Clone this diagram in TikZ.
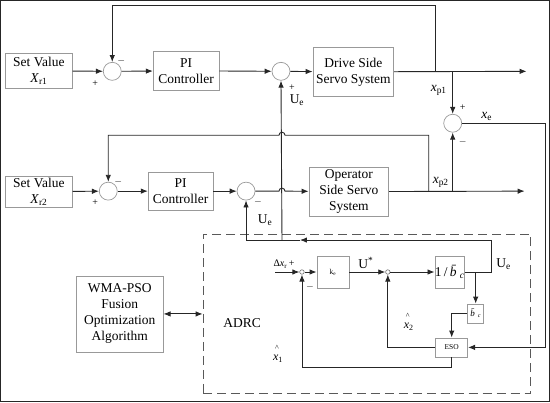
\documentclass[tikz,border=0pt]{standalone}
\usepackage{fontspec}
\setmainfont{Liberation Serif}
\usetikzlibrary{arrows.meta,positioning,calc}

\newcommand{\hatx}[1]{\rlap{\hspace{2pt}\raisebox{10pt}{\fontsize{8}{8}\selectfont\^{}}}\textit{x}\textsubscript{#1}}

\begin{document}
\begin{tikzpicture}[
  x=1pt, y=-1pt,
  >={Latex[length=7pt,width=5.5pt]},
  every node/.style={font=\fontsize{13.5}{16}\selectfont},
  every path/.style={line width=.9pt, draw=black!85},
  block/.style={draw=black!40, line width=.7pt, fill=white, align=center, inner sep=1pt},
  sum/.style={draw=black!40, line width=.7pt, circle, minimum size=18pt, inner sep=0pt},
  dot/.style={draw=black!55, line width=.6pt, circle, minimum size=4.5pt, inner sep=0pt},
  tiny/.style={font=\fontsize{7.5}{9}\selectfont},
  sign/.style={font=\fontsize{10}{12}\selectfont},
  frame/.style={draw=black!65, line width=1pt, dash pattern=on 9pt off 5pt}
]
\useasboundingbox (0,0) rectangle (550,402);

% ADRC frame and optimiser
\node[frame, minimum width=328pt, minimum height=160pt] (adrc) at (367,314) {};
\node[block, minimum width=87pt, minimum height=76pt] (wma) at (119.5,314) {WMA-PSO\\Fusion\\Optimization\\Algorithm};
\node at (242,323) {ADRC};
\draw[<->] (wma) -- (adrc);

% drive side loop
\node[block, minimum width=67pt, minimum height=35pt] (set1) at (38.5,70.5) {Set Value\\\textit{X}\textsubscript{r1}};
\node[sum] (s1) at (112,71) {};
\node[block, minimum width=66pt, minimum height=39pt] (pi1) at (186,70.5) {PI\\Controller};
\node[sum] (s2) at (281,71) {};
\node[block, minimum width=81pt, minimum height=49pt] (drive) at (353.5,71.5) {Drive Side\\Servo System};
\coordinate (b1) at (436,71);
\coordinate (b2) at (453,71);
\coordinate (o1) at (527,71);

% operator side loop
\node[block, minimum width=67pt, minimum height=31pt] (set2) at (38.5,191.5) {Set Value\\\textit{X}\textsubscript{r2}};
\node[sum] (s4) at (108,191) {};
\node[block, minimum width=65pt, minimum height=38pt] (pi2) at (180.5,191) {PI\\Controller};
\node[sum] (s5) at (246,191) {};
\node[block, minimum width=80pt, minimum height=49pt] (oper) at (349,191.5) {Operator\\Side Servo\\System};
\coordinate (b3) at (429,191);
\coordinate (b4) at (453,191);
\coordinate (o2) at (525,191);

% error summation
\node[sum] (s3) at (453,123) {};

% ADRC inner blocks
\coordinate (dx) at (275,272);
\node[dot] (d1) at (302,272) {};
\node[block, tiny, minimum width=32pt, minimum height=32pt] (ke) at (333,272) {k\textsubscript{e}};
\node[dot] (d2) at (388,272) {};
\node[block, minimum width=28pt, minimum height=32pt, inner sep=0pt] (invb) at (450,272) {1\,/\,\textit{\=b}\textsubscript{\textit{c}}};
\node[block, font=\fontsize{9}{10}\selectfont, minimum width=16pt, minimum height=19pt, inner sep=0pt] (bc) at (476,313.5) {\textit{\=b}\textsubscript{\,\textit{c}}};
\node[block, tiny, minimum width=32pt, minimum height=19pt] (eso) at (452,347.5) {ESO};
\coordinate (ue) at (492,272);
\coordinate (ua) at (300,240);
\coordinate (uj) at (282,240);
\coordinate (bb) at (476,272);

% connectors, drive side
\draw[->] (set1) -- (s1);
\draw[->] (s1) -- (pi1);
\draw[->] (pi1) -- (s2);
\draw[->] (s2) -- (drive);
\draw[->] (drive) -- (o1);
\draw[->] (b1) -- (436,5) -| (s1.north);
\draw[->] (b2) -- (s3.north);

% connectors, operator side
\draw[->] (set2) -- (s4);
\draw[->] (s4) -- (pi2);
\draw[->] (pi2) -- (s5);
\draw[->] (s5) -- (279,191) arc[start angle=180, end angle=360, radius=3] -- (oper);
\draw[->] (oper) -- (o2);
\draw[->] (b3) -- (429,135) -- (285,135) arc[start angle=0, end angle=-180, radius=3] -- (108,135) -- (s4.north);
\draw[->] (b4) -- (s3.south);
\draw[->] (s3) -- (546,123) |- (eso);

% connectors, ADRC
\draw[->] (dx) -- (d1);
\draw[->] (d1) -- (ke);
\draw[->] (ke) -- (d2);
\draw[->] (d2) -- (invb);
\draw[->] (invb) -- (ue) |- (ua);
\draw[->] (ua) -| (s5.south);
\draw[->] (uj) -- (s2.south);
\draw[->] (bb) -- (bc);
\draw[->] (bc) -| (eso.north);
\draw[->] (eso) -| (d2.south);
\draw[->] (eso.south) -- (452,368) -| (d1.south);

% labels
\node[sign] at (95,83) {+};
\node[sign] at (121,61) {$-$};
\node[sign] at (95,203) {+};
\node[sign] at (118,182) {$-$};
\node[sign] at (292,87) {+};
\node at (297,100) {U\textsubscript{e}};
\node[sign] at (258,202) {$-$};
\node at (265,220) {U\textsubscript{e}};
\node at (439,90) {\textit{x}\textsubscript{p1}};
\node[sign] at (463,107) {+};
\node[sign] at (463,142) {$-$};
\node at (487,116) {\textit{x}\textsubscript{e}};
\node at (441,182) {\textit{x}\textsubscript{p2}};
\node[font=\fontsize{10}{12}\selectfont] at (284,264) {Δ\textit{x}\textsubscript{r}\,+};
\node[sign] at (310,287) {$-$};
\node at (366,263) {U\textsuperscript{*}};
\node at (504,264) {U\textsubscript{e}};
\node[font=\fontsize{12}{14}\selectfont] at (409,322) {\hatx{2}};
\node[font=\fontsize{12}{14}\selectfont] at (278,354) {\hatx{1}};
\end{tikzpicture}
\end{document}
